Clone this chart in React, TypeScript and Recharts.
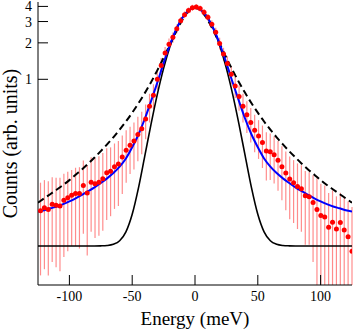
import React from "react";
import {
  ComposedChart,
  Line,
  Scatter,
  ErrorBar,
  XAxis,
  YAxis,
  Label,
} from "recharts";

// energy grid of the fitted curves (meV)
const curveEnergy = [
  -125, -120, -115, -110, -105, -100, -95, -90, -85, -80, -75, -70, -65, -60,
  -55, -50, -45, -40, -35, -30, -25, -20, -15, -10, -5, 0, 5, 10, 15, 20, 25,
  30, 35, 40, 45, 50, 55, 60, 65, 70, 75, 80, 85, 90, 95, 100, 105, 110, 115,
  120, 125,
];

// black solid: resolution (gaussian on flat background)
const resolutionCurve = [
  0.042, 0.042, 0.042, 0.042, 0.042, 0.042, 0.042, 0.042, 0.042, 0.042, 0.0421,
  0.0424, 0.0434, 0.0464, 0.055, 0.0768, 0.127, 0.232, 0.426, 0.75, 1.23, 1.86,
  2.57, 3.24, 3.72, 3.9, 3.72, 3.24, 2.57, 1.86, 1.23, 0.75, 0.426, 0.232,
  0.127, 0.0768, 0.055, 0.0464, 0.0434, 0.0424, 0.0421, 0.042, 0.042, 0.042,
  0.042, 0.042, 0.042, 0.042, 0.042, 0.042, 0.042,
];

// black dashed: lorentzian
const lorentzCurve = [
  0.0957, 0.104, 0.113, 0.123, 0.134, 0.147, 0.163, 0.18, 0.201, 0.226, 0.255,
  0.29, 0.332, 0.384, 0.448, 0.53, 0.634, 0.769, 0.947, 1.185, 1.505, 1.93,
  2.48, 3.11, 3.67, 3.9, 3.67, 3.11, 2.48, 1.93, 1.505, 1.185, 0.947, 0.769,
  0.634, 0.53, 0.448, 0.384, 0.332, 0.29, 0.255, 0.226, 0.201, 0.18, 0.163,
  0.147, 0.134, 0.123, 0.113, 0.104, 0.0957,
];

// blue: full fit
const fitCurve = [
  0.081, 0.083, 0.086, 0.089, 0.093, 0.098, 0.104, 0.111, 0.119, 0.128, 0.139,
  0.152, 0.168, 0.19, 0.222, 0.275, 0.35, 0.47, 0.66, 0.94, 1.36, 1.92, 2.58,
  3.22, 3.71, 3.9, 3.71, 3.22, 2.58, 1.92, 1.36, 0.94, 0.66, 0.47, 0.35, 0.275,
  0.222, 0.19, 0.168, 0.152, 0.139, 0.128, 0.119, 0.111, 0.104, 0.098, 0.093,
  0.089, 0.086, 0.083, 0.081,
];

// measured points
const dataEnergy = [
  -123, -119.9, -116.8, -113.7, -110.6, -107.5, -104.4, -101.3, -98.2, -95.1,
  -92, -88.9, -85.8, -82.7, -79.6, -76.5, -73.4, -70.3, -67.2, -64.1,
  -61, -57.9, -54.8, -51.7, -48.6, -45.5, -42.4, -39.3, -36.2, -33.1,
  -30, -26.9, -23.8, -20.7, -17.6, -14.5, -11.4, -8.3, -5.2, -2.1,
  1, 4.1, 7.2, 10.3, 13.4, 16.5, 19.6, 22.7, 25.8, 28.9,
  32, 35.1, 38.2, 41.3, 44.4, 47.5, 50.6, 53.7, 56.8, 59.9,
  63, 66.1, 69.2, 72.3, 75.4, 78.5, 81.6, 84.7, 87.8, 90.9,
  94, 97.1, 100.2, 103.3, 106.4, 109.5, 112.6, 115.7, 118.8, 121.9,
  125,
];

const dataCounts = [
  0.082, 0.087, 0.084, 0.093, 0.091, 0.09, 0.1, 0.105, 0.11, 0.114,
  0.114, 0.133, 0.115, 0.141, 0.137, 0.141, 0.151, 0.169, 0.174, 0.19,
  0.2, 0.228, 0.26, 0.285, 0.31, 0.35, 0.39, 0.47, 0.6, 0.74,
  1.0, 1.3, 1.65, 1.95, 2.22, 2.62, 3.05, 3.42, 3.7, 3.9,
  3.95, 3.85, 3.58, 3.25, 2.85, 2.45, 1.98, 1.62, 1.35, 1.1,
  0.88, 0.72, 0.6, 0.51, 0.44, 0.38, 0.34, 0.3, 0.256, 0.252,
  0.238, 0.215, 0.19, 0.168, 0.15, 0.14, 0.13, 0.125, 0.109, 0.107,
  0.096, 0.084, 0.075, 0.073, 0.06, 0.066, 0.058, 0.0655, 0.057, 0.05,
  0.038,
];

const dataErrors = [
  0.058, 0.06, 0.06, 0.062, 0.063, 0.064, 0.066, 0.067, 0.068, 0.072,
  0.074, 0.08, 0.08, 0.086, 0.088, 0.09, 0.095, 0.1, 0.1, 0.105,
  0.11, 0.115, 0.12, 0.12, 0.13, 0.14, 0.15, 0.15, 0.16, 0.17,
  0.18, 0.2, 0.2, 0.22, 0.22, 0.22, 0.22, 0.22, 0.22, 0.22,
  0.22, 0.22, 0.22, 0.22, 0.22, 0.22, 0.22, 0.2, 0.2, 0.19,
  0.18, 0.17, 0.16, 0.15, 0.14, 0.13, 0.12, 0.115, 0.11, 0.105,
  0.1, 0.095, 0.09, 0.085, 0.08, 0.075, 0.072, 0.07, 0.066, 0.064,
  0.065, 0.068, 0.062, 0.06, 0.055, 0.055, 0.05, 0.05, 0.048, 0.048,
  0.05,
];

const xMajor = [-100, -50, 0, 50, 100];
const xMinor = [-75, -25, 25, 75];
const yMajor = [1, 2, 3, 4];
const yMinor = [0.5, 1.5, 2.5, 3.5];

const X_DOMAIN = [-125, 125];
const Y_DOMAIN = [0.02, 4.35];
const FONT = "'Liberation Serif', 'Times New Roman', serif";

const curveRows = curveEnergy.map((e, i) => ({
  e,
  res: resolutionCurve[i],
  lor: lorentzCurve[i],
  fit: fitCurve[i],
}));

// lower half of the bar stops at the bottom of the log axis
const pointRows = dataEnergy.map((e, i) => ({
  e,
  y: dataCounts[i],
  err: [Math.min(dataErrors[i], dataCounts[i] - Y_DOMAIN[0]), dataErrors[i]],
}));

const Dot = (props: any) => (
  <circle cx={props.cx} cy={props.cy} r={2.5} fill="#ff0000" />
);

const YTitle = ({ viewBox }: any) => {
  const cx = viewBox.x + 17;
  const cy = viewBox.y + viewBox.height / 2;
  return (
    <text
      x={cx}
      y={cy}
      transform={`rotate(-90 ${cx} ${cy})`}
      textAnchor="middle"
      fontSize={20}
      fontFamily={FONT}
      fill="#000"
    >
      Counts (arb. units)
    </text>
  );
};

export default function App() {
  const tickStyle = { fill: "#000", fontSize: 14, fontFamily: FONT };
  return (
    <div
      style={{
        position: "absolute",
        left: 0,
        top: 0,
        width: 355,
        height: 331,
        background: "#fff",
        fontFamily: FONT,
      }}
    >
      <ComposedChart
        width={355}
        height={331}
        margin={{ top: 2, right: 3, bottom: 0, left: 0 }}
        style={{ fontFamily: FONT }}
      >
        {/* frame ticks: minor ones and the top / right copies */}
        <XAxis xAxisId="bMinor" type="number" domain={X_DOMAIN} allowDataOverflow
          ticks={xMinor} interval={0} mirror height={0} tickSize={5}
          tick={false} axisLine={false} stroke="#000" />
        <XAxis xAxisId="top" orientation="top" type="number" domain={X_DOMAIN}
          allowDataOverflow ticks={xMajor} interval={0} mirror height={0}
          tickSize={10} tick={false} stroke="#000" />
        <XAxis xAxisId="topMinor" orientation="top" type="number" domain={X_DOMAIN}
          allowDataOverflow ticks={xMinor} interval={0} mirror height={0}
          tickSize={5} tick={false} axisLine={false} stroke="#000" />
        <YAxis yAxisId="lMinor" type="number" scale="log" domain={Y_DOMAIN}
          allowDataOverflow ticks={yMinor} interval={0} mirror width={0}
          tickSize={6} tick={false} axisLine={false} stroke="#000" />
        <YAxis yAxisId="right" orientation="right" type="number" scale="log"
          domain={Y_DOMAIN} allowDataOverflow ticks={yMajor} interval={0} mirror
          width={0} tickSize={10} tick={false} stroke="#000" />
        <YAxis yAxisId="rMinor" orientation="right" type="number" scale="log"
          domain={Y_DOMAIN} allowDataOverflow ticks={yMinor} interval={0} mirror
          width={0} tickSize={6} tick={false} axisLine={false} stroke="#000" />

        <XAxis xAxisId="x" type="number" dataKey="e" domain={X_DOMAIN}
          allowDataOverflow ticks={xMajor} interval={0} height={46}
          tickSize={-10} tickMargin={16} stroke="#000" fontFamily={FONT}
          tick={tickStyle}>
          <Label value="Energy (meV)" position="insideBottom" offset={6}
            fontSize={19} fontFamily={FONT} fill="#000" />
        </XAxis>
        <YAxis yAxisId="y" type="number" scale="log" domain={Y_DOMAIN}
          allowDataOverflow ticks={yMajor} interval={0} width={38}
          tickSize={-10} tickMargin={16} stroke="#000" fontFamily={FONT}
          tick={tickStyle}>
          <Label content={<YTitle />} />
        </YAxis>

        <Scatter data={pointRows} dataKey="y" xAxisId="x" yAxisId="y"
          shape={<Dot />} isAnimationActive={false}>
          <ErrorBar dataKey="err" direction="y" width={0} stroke="#ff0000"
            strokeOpacity={0.45} strokeWidth={1.2} isAnimationActive={false} />
        </Scatter>
        <Line data={curveRows} dataKey="res" xAxisId="x" yAxisId="y"
          type="monotone" stroke="#000" strokeWidth={1.6} dot={false}
          isAnimationActive={false} />
        <Line data={curveRows} dataKey="lor" xAxisId="x" yAxisId="y"
          type="monotone" stroke="#000" strokeWidth={2} strokeDasharray="7 4"
          dot={false} isAnimationActive={false} />
        <Line data={curveRows} dataKey="fit" xAxisId="x" yAxisId="y"
          type="monotone" stroke="#0000ff" strokeWidth={2} dot={false}
          isAnimationActive={false} />
      </ComposedChart>
    </div>
  );
}
